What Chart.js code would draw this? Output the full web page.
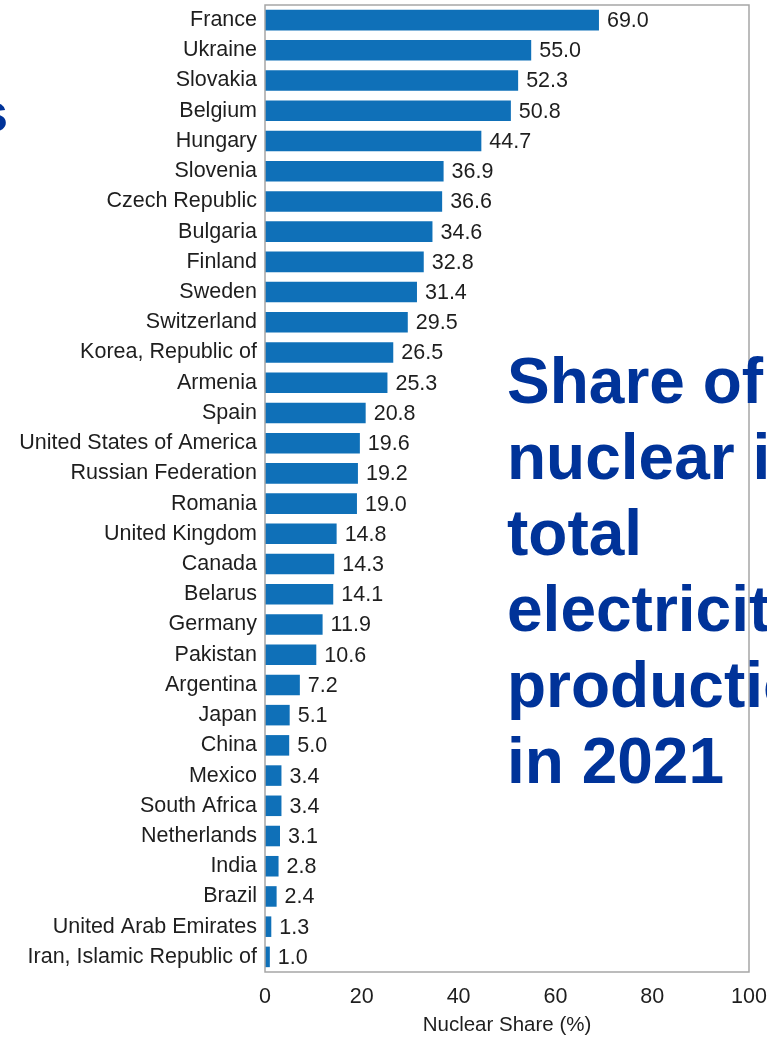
<!DOCTYPE html>
<html>
<head>
<meta charset="utf-8">
<script src="https://cdn.jsdelivr.net/npm/chart.js@4/dist/chart.umd.min.js"></script>
<style>
  html, body { margin: 0; padding: 0; width: 767px; height: 1038px; overflow: hidden; background: #fff; }
  #wrap { position: relative; width: 790px; height: 1038px; }
  .big { position: absolute; font-family: Arial, "Liberation Sans", sans-serif; font-weight: bold; color: #003399; white-space: nowrap; }
  #title { left: 507px; top: 343px; font-size: 64px; line-height: 76px; }
  #frag { left: -22px; top: 82px; font-size: 54px; line-height: 60px; }
</style>
</head>
<body>
<div id="wrap">
  <canvas id="chartCanvas" width="790" height="1038"></canvas>
  <div id="frag" class="big">s</div>
  <div id="title" class="big">Share of<br>nuclear in<br>total<br>electricity<br>production<br>in 2021</div>
</div>
<script>
// nuclear share of electricity production, 2021
const countries = [
    "France", "Ukraine", "Slovakia", "Belgium", "Hungary", "Slovenia", "Czech Republic",
    "Bulgaria", "Finland", "Sweden", "Switzerland", "Korea, Republic of", "Armenia", "Spain",
    "United States of America", "Russian Federation", "Romania", "United Kingdom", "Canada",
    "Belarus", "Germany", "Pakistan", "Argentina", "Japan", "China", "Mexico", "South Africa",
    "Netherlands", "India", "Brazil", "United Arab Emirates", "Iran, Islamic Republic of"
];
const shares = [
    69.0, 55.0, 52.3, 50.8, 44.7, 36.9, 36.6,
    34.6, 32.8, 31.4, 29.5, 26.5, 25.3, 20.8,
    19.6, 19.2, 19.0, 14.8, 14.3,
    14.1, 11.9, 10.6, 7.2, 5.1, 5.0, 3.4, 3.4,
    3.1, 2.8, 2.4, 1.3, 1.0
];
const xTicks = [0, 20, 40, 60, 80, 100];

const FONT = "Arial, 'Liberation Sans', sans-serif";

// value labels at the end of each bar
const valueLabels = {
    id: "valueLabels",
    afterDatasetsDraw(chart) {
        const ctx = chart.ctx;
        const meta = chart.getDatasetMeta(0);
        ctx.save();
        ctx.font = "21.5px " + FONT;
        ctx.fillStyle = "#1e1e1e";
        ctx.textAlign = "left";
        ctx.textBaseline = "middle";
        meta.data.forEach((bar, i) => {
            ctx.fillText(shares[i].toFixed(1), bar.x + 8, bar.y + 1);
        });
        ctx.restore();
    }
};

// grey frame round the plot area
const frame = {
    id: "frame",
    afterDraw(chart) {
        const a = chart.chartArea;
        const ctx = chart.ctx;
        ctx.save();
        ctx.strokeStyle = "#a6a6a6";
        ctx.lineWidth = 1.5;
        ctx.strokeRect(a.left, a.top, a.right - a.left, a.bottom - a.top);
        ctx.restore();
    }
};

const draw = () => {
    const ctx = document.getElementById("chartCanvas").getContext("2d");
    new Chart(ctx, {
        type: "bar",
        data: {
            labels: countries,
            datasets: [
                {
                    label: "Nuclear Share (%)",
                    data: shares,
                    backgroundColor: "#0f70b8",
                    barPercentage: 0.68,
                    categoryPercentage: 1.0,
                },
            ],
        },
        options: {
            indexAxis: "y",
            responsive: false,
            animation: false,
            devicePixelRatio: 1,
            layout: { padding: { top: 5, right: 41, bottom: 0, left: 0 } },
            plugins: {
                legend: { display: false },
                tooltip: { enabled: false },
            },
            scales: {
                x: {
                    min: 0,
                    max: 100,
                    afterBuildTicks: (scale) => {
                        scale.ticks = xTicks.map((v) => ({ value: v }));
                    },
                    afterFit: (scale) => {
                        scale.height = 66;
                    },
                    grid: { display: false, drawTicks: false },
                    border: { display: false },
                    ticks: { color: "#1e1e1e", font: { family: FONT, size: 21.5 }, padding: 12, maxRotation: 0 },
                    title: {
                        display: true,
                        text: "Nuclear Share (%)",
                        color: "#1e1e1e",
                        font: { family: FONT, size: 20.5 },
                        padding: { top: 0, bottom: 0 },
                    },
                },
                y: {
                    afterFit: (scale) => {
                        scale.width = 265;
                        scale.paddingTop = 0;
                        scale.paddingBottom = 0;
                    },
                    grid: { display: false, drawTicks: false },
                    border: { display: false },
                    ticks: { color: "#1e1e1e", font: { family: FONT, size: 21.5 }, padding: 8, autoSkip: false },
                },
            },
        },
        plugins: [valueLabels, frame],
    });
};

document.fonts.load("21px Arial").then(draw, draw);
</script>
</body>
</html>
